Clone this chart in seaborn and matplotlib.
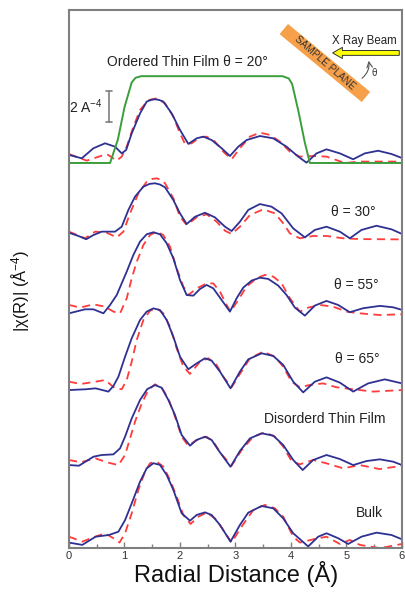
import matplotlib
matplotlib.use("Agg")
from matplotlib import pyplot as plt
import seaborn as sns

# knots (R in Angstrom, |chi(R)|) for each sample
# blue solid = data, red dashed = fit
ord20_data = [(0.0, 0.52), (0.23, 0.30), (0.44, 0.95), (0.65, 1.27), (0.83, 1.05), (0.95, 0.62),
              (1.03, 0.84), (1.13, 1.91), (1.28, 3.2), (1.40, 3.96), (1.48, 4.07), (1.55, 4.11),
              (1.62, 4.07), (1.70, 3.96), (1.85, 3.2), (2.0, 2.13), (2.15, 1.23), (2.30, 1.59),
              (2.42, 1.7), (2.57, 1.48), (2.75, 0.95), (2.90, 0.45), (3.05, 1.05), (3.20, 1.48),
              (3.44, 1.74), (3.68, 1.59), (3.92, 1.05), (4.13, 0.41), (4.28, 0.02), (4.46, 0.62),
              (4.64, 0.88), (4.88, 0.62), (5.12, 0.24), (5.33, 0.62), (5.57, 0.79), (5.81, 0.58),
              (6.0, 0.32)]
ord20_fit = [(0.0, 0.58), (0.32, 0.15), (0.68, 0.58), (0.86, 0.15), (0.95, 0.41), (1.04, 1.05),
             (1.16, 2.34), (1.28, 3.42), (1.43, 4.06), (1.58, 4.17), (1.73, 3.85), (1.88, 2.99),
             (2.0, 1.91), (2.09, 1.23), (2.21, 1.27), (2.36, 1.66), (2.48, 1.7), (2.63, 1.38),
             (2.78, 0.73), (2.93, 0.24), (3.08, 0.95), (3.26, 1.7), (3.44, 1.96), (3.62, 1.81),
             (3.80, 1.38), (3.98, 0.73), (4.16, 0.41), (4.40, 0.45), (4.64, 0.41), (4.97, 0.0),
             (5.24, 0.09), (5.54, 0.09), (6.0, 0.09)]
window = [(0.0, 0.0), (0.74, 0.0), (0.88, 1.5), (1.0, 3.6), (1.13, 5.2), (1.2, 5.5), (1.3, 5.6),
          (3.85, 5.6), (3.96, 5.45), (4.02, 5.1), (4.13, 3.4), (4.25, 1.3), (4.34, 0.0), (6.0, 0.0)]

th30_data = [(0.0, 0.47), (0.17, 0.26), (0.31, 0.05), (0.44, 0.32), (0.59, 0.54), (0.83, 0.54),
             (0.95, 0.86), (1.07, 1.94), (1.19, 2.8), (1.34, 3.44), (1.45, 3.62), (1.55, 3.66),
             (1.64, 3.58), (1.73, 3.4), (1.88, 2.58), (2.0, 1.72), (2.12, 1.03), (2.27, 1.5),
             (2.45, 1.76), (2.63, 1.46), (2.81, 0.86), (2.93, 0.58), (3.08, 1.18), (3.23, 1.94),
             (3.44, 2.32), (3.65, 2.15), (3.83, 1.72), (4.04, 0.75), (4.25, 0.17), (4.43, 0.65),
             (4.64, 0.86), (4.88, 0.54), (5.06, 0.11), (5.27, 0.65), (5.54, 0.92), (5.81, 0.69),
             (6.0, 0.39)]
th30_fit = [(0.0, 0.54), (0.29, 0.11), (0.47, 0.54), (0.68, 0.47), (0.86, 0.17), (0.98, 0.54),
            (1.10, 1.72), (1.25, 3.01), (1.40, 3.76), (1.50, 3.94), (1.58, 3.98), (1.66, 3.88),
            (1.73, 3.66), (1.88, 2.69), (2.0, 1.5), (2.12, 0.97), (2.30, 1.46), (2.48, 1.66),
            (2.66, 1.18), (2.81, 0.6), (2.93, 0.39), (3.08, 0.86), (3.26, 1.61), (3.50, 1.98),
            (3.71, 1.72), (3.86, 1.08), (3.98, 0.43), (4.16, 0.11), (4.40, 0.26), (4.64, 0.26),
            (4.94, 0.11), (5.24, 0.06), (6.0, 0.04)]

th55_data = [(0.0, 0.17), (0.29, 0.43), (0.44, 0.43), (0.62, 0.17), (0.74, 0.71), (0.86, 1.35),
             (1.04, 2.86), (1.16, 3.94), (1.28, 4.8), (1.40, 5.27), (1.52, 5.4), (1.64, 5.27),
             (1.76, 4.69), (1.88, 3.72), (2.0, 2.32), (2.12, 1.35), (2.24, 1.31), (2.36, 1.74),
             (2.48, 2.0), (2.60, 1.78), (2.75, 1.03), (2.90, 0.28), (3.02, 1.14), (3.14, 1.83),
             (3.29, 2.28), (3.44, 2.47), (3.59, 2.39), (3.77, 1.96), (3.92, 1.35), (4.07, 0.54),
             (4.25, 0.02), (4.43, 0.67), (4.64, 0.97), (4.85, 0.71), (5.06, 0.24), (5.30, 0.5),
             (5.60, 0.65), (5.84, 0.56), (6.0, 0.39)]
th55_fit = [(0.0, 0.71), (0.20, 0.54), (0.44, 0.75), (0.65, 0.6), (0.80, 0.28), (0.92, 0.17),
            (1.04, 1.14), (1.13, 2.43), (1.22, 3.49), (1.34, 4.58), (1.46, 5.22), (1.58, 5.44),
            (1.70, 5.22), (1.82, 4.47), (1.94, 3.08), (2.06, 1.9), (2.15, 1.35), (2.30, 1.78),
            (2.48, 2.1), (2.60, 2.1), (2.72, 1.57), (2.84, 0.71), (2.91, 0.28), (3.05, 1.03),
            (3.20, 1.9), (3.38, 2.43), (3.53, 2.65), (3.68, 2.54), (3.83, 2.11), (3.98, 1.14),
            (4.16, 0.28), (4.31, 0.54), (4.52, 0.71), (4.76, 0.6), (5.0, 0.28), (5.24, 0.17),
            (5.60, 0.06), (6.0, 0.11)]

th65_data = [(0.0, 0.19), (0.30, 0.24), (0.48, 0.3), (0.71, 0.09), (0.80, 0.45), (0.89, 1.05),
             (1.01, 2.34), (1.13, 3.53), (1.28, 4.71), (1.40, 5.25), (1.52, 5.46), (1.64, 5.35),
             (1.76, 4.71), (1.88, 3.63), (2.0, 2.34), (2.15, 1.53), (2.30, 1.91), (2.45, 2.24),
             (2.57, 2.09), (2.72, 1.38), (2.91, 0.3), (3.08, 1.38), (3.23, 2.17), (3.47, 2.56),
             (3.68, 2.39), (3.86, 1.81), (4.04, 0.73), (4.22, 0.04), (4.43, 0.73), (4.64, 1.01),
             (4.88, 0.67), (5.12, 0.09), (5.39, 0.62), (5.69, 0.88), (6.0, 0.62)]
th65_fit = [(0.0, 0.73), (0.21, 0.58), (0.48, 0.73), (0.65, 0.84), (0.83, 0.3), (0.95, 0.24),
            (1.04, 0.84), (1.13, 2.02), (1.22, 3.42), (1.34, 4.71), (1.46, 5.31), (1.58, 5.46),
            (1.70, 5.14), (1.82, 4.28), (1.94, 2.88), (2.06, 1.7), (2.18, 1.23), (2.36, 2.02),
            (2.51, 2.24), (2.66, 1.81), (2.78, 1.05), (2.93, 0.37), (3.08, 1.23), (3.26, 2.24),
            (3.50, 2.67), (3.71, 2.34), (3.86, 1.7), (4.01, 0.73), (4.16, 0.37), (4.34, 0.52),
            (4.58, 0.62), (4.82, 0.37), (5.12, 0.24), (5.48, 0.09), (6.0, 0.19)]

dis_data = [(0.0, 0.32), (0.18, 0.28), (0.44, 0.86), (0.59, 0.97), (0.80, 1.01), (0.92, 1.4),
            (1.01, 2.15), (1.13, 3.33), (1.28, 4.52), (1.41, 5.22), (1.55, 5.48), (1.67, 5.31),
            (1.79, 4.52), (1.91, 3.55), (2.03, 2.26), (2.18, 1.57), (2.30, 1.94), (2.45, 2.15),
            (2.57, 1.94), (2.69, 1.29), (2.91, 0.21), (3.08, 1.23), (3.26, 2.04), (3.47, 2.37),
            (3.68, 2.22), (3.86, 1.61), (4.04, 0.65), (4.21, 0.0), (4.40, 0.65), (4.64, 0.97),
            (4.88, 0.71), (5.12, 0.32), (5.36, 0.58), (5.60, 0.69), (5.84, 0.54), (6.0, 0.32)]
dis_fit = [(0.0, 0.65), (0.21, 0.5), (0.48, 0.75), (0.68, 0.5), (0.89, 0.32), (1.01, 0.97),
           (1.10, 2.04), (1.19, 3.12), (1.31, 4.3), (1.43, 5.16), (1.55, 5.53), (1.67, 5.31),
           (1.79, 4.62), (1.91, 3.44), (2.03, 2.15), (2.15, 1.57), (2.30, 1.94), (2.48, 2.15),
           (2.60, 1.83), (2.75, 1.01), (2.93, 0.28), (3.11, 1.29), (3.32, 2.15), (3.53, 2.43),
           (3.71, 2.15), (3.86, 1.51), (4.01, 0.58), (4.16, 0.37), (4.40, 0.65), (4.64, 0.43),
           (4.94, 0.11), (5.24, 0.32), (5.60, 0.06), (6.0, 0.28)]

bulk_data = [(0.0, 0.25), (0.24, 0.1), (0.48, 0.63), (0.72, 0.74), (0.89, 0.95), (1.01, 1.7),
             (1.13, 2.78), (1.28, 4.18), (1.40, 5.04), (1.52, 5.37), (1.64, 5.26), (1.76, 4.61),
             (1.88, 3.65), (2.03, 2.14), (2.18, 1.66), (2.30, 2.03), (2.45, 2.2), (2.57, 2.03),
             (2.72, 1.39), (2.91, 0.31), (3.08, 1.39), (3.23, 2.18), (3.47, 2.61), (3.68, 2.46),
             (3.86, 1.81), (4.04, 0.85), (4.31, 0.0), (4.49, 0.63), (4.64, 0.85), (4.85, 0.53),
             (5.03, 0.16), (5.27, 0.63), (5.54, 0.89), (5.81, 0.74), (6.0, 0.46)]
bulk_fit = [(0.0, 0.63), (0.24, 0.31), (0.44, 0.59), (0.65, 0.85), (0.80, 0.53), (0.91, 0.25),
            (1.01, 0.85), (1.13, 2.14), (1.25, 3.65), (1.37, 4.83), (1.46, 5.37), (1.58, 5.47),
            (1.70, 5.15), (1.82, 4.29), (1.94, 3.22), (2.06, 2.03), (2.19, 1.45), (2.33, 1.92),
            (2.48, 2.18), (2.63, 1.81), (2.78, 1.06), (2.93, 0.25), (3.11, 1.28), (3.32, 2.35),
            (3.53, 2.68), (3.71, 2.46), (3.86, 1.92), (4.04, 0.63), (4.16, 0.25), (4.40, 0.46),
            (4.64, 0.63), (4.88, 0.16), (5.06, 0.42), (5.24, 0.1), (5.60, -0.11), (6.0, 0.16)]

labels = ["Ordered Thin Film \u03b8 = 20\u00b0", "\u03b8 = 30\u00b0", "\u03b8 = 55\u00b0",
          "\u03b8 = 65\u00b0", "Disorderd Thin Film", "Bulk"]
offsets = [24.84, 19.87, 14.97, 10.0, 5.03, 0.1]
datasets = [ord20_data, th30_data, th55_data, th65_data, dis_data, bulk_data]
fits = [ord20_fit, th30_fit, th55_fit, th65_fit, dis_fit, bulk_fit]
label_pos = [(2.14, 31.35), (5.12, 21.68), (5.17, 16.97), (5.19, 12.19), (4.61, 8.32), (5.41, 2.26)]

BLUE = "#2E3192"
RED = "#FF3B3B"
GREEN = "#3A9E3A"
GRAY = "#7F7F7F"

sns.set_style("ticks")
plt.rcParams['font.family'] = ['Liberation Sans', 'DejaVu Sans']
plt.rcParams['mathtext.default'] = 'regular'

fig = plt.figure(figsize=(4.06, 5.97), dpi=100)
ax = fig.add_axes([69 / 406, 1 - 548 / 597, 333 / 406, 538 / 597])


def draw(pts, off, **kw):
    xs = [p[0] for p in pts]
    ys = [p[1] + off for p in pts]
    sns.lineplot(x=xs, y=ys, ax=ax, sort=False, estimator=None, **kw)


for dat, fit, off in zip(datasets, fits, offsets):
    draw(fit, off, color=RED, lw=1.3, linestyle=(0, (4.5, 3)), dash_joinstyle="round")
    draw(dat, off, color=BLUE, lw=1.3, solid_joinstyle="round")
draw(window, offsets[0], color=GREEN, lw=1.4, solid_joinstyle="round")

for lab, (lx, ly) in zip(labels, label_pos):
    ax.text(lx, ly, lab, ha="center", va="center", fontsize=10, color="#222222")

# 2 A^-4 scale bar
ax.plot([0.72, 0.72], [27.48, 29.48], color=GRAY, lw=1.2)
ax.plot([0.67, 0.77], [29.48, 29.48], color=GRAY, lw=1.2)
ax.plot([0.67, 0.77], [27.48, 27.48], color=GRAY, lw=1.2)
ax.text(0.6, 28.5, "2 A$^{-4}$", ha="right", va="center", fontsize=10, color="#222222")

# geometry sketch: sample plane, beam and angle
ax.plot([3.87, 5.35], [33.48, 29.1], color="#F7A04A", lw=9.5, solid_capstyle="butt")
ax.text(4.61, 31.29, "SAMPLE PLANE", rotation=-41, rotation_mode="anchor",
        ha="center", va="center", fontsize=7.2, color="#333333")
ax.annotate("", xy=(4.7, 31.94), xytext=(6.0, 31.94), annotation_clip=False,
            arrowprops=dict(arrowstyle="simple,head_length=0.7,head_width=0.8,tail_width=0.35",
                            fc="#FFFF00", ec="#333333", lw=0.7))
ax.text(5.33, 32.7, "X Ray Beam", ha="center", va="center", fontsize=8.3, color="#222222")
ax.annotate("", xy=(5.39, 31.61), xytext=(5.24, 30.2),
            arrowprops=dict(arrowstyle="->", color="#555555", lw=0.8,
                            connectionstyle="arc3,rad=0.35"))
ax.text(5.5, 30.65, "\u03b8", ha="center", va="center", fontsize=7, color="#333333")

ax.set_xlim(0, 6)
ax.set_ylim(0, 538 / 15.5)
ax.set_yticks([])
ax.set_xticks(range(7))
ax.set_xticks([0.5, 1.5, 2.5, 3.5, 4.5, 5.5], minor=True)
ax.tick_params(axis="x", which="both", direction="in", colors=GRAY, labelcolor="#333333",
               labelsize=8, pad=2)
ax.tick_params(axis="x", which="major", length=4, width=1)
ax.tick_params(axis="x", which="minor", length=3, width=1)
for s in ax.spines.values():
    s.set_color(GRAY)
    s.set_linewidth(1.5)

ax.set_xlabel("Radial Distance (\u00c5)", fontsize=17, color="#111111")
ax.xaxis.set_label_coords(0.503, -0.024)
ax.set_ylabel("|\u03c7(R)| (\u00c5$^{-4}$)", fontsize=12, color="#111111")
ax.yaxis.set_label_coords(-0.11, 0.478)

fig.savefig("out.png", dpi=100)
